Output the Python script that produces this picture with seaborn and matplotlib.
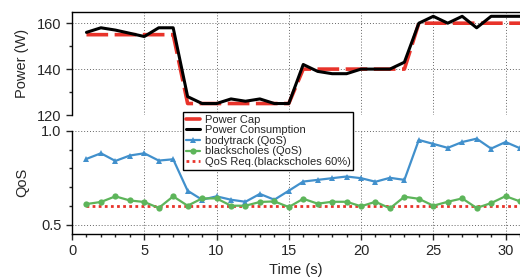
import numpy as np
import pandas as pd
import seaborn as sns
import matplotlib
matplotlib.use("Agg")
from matplotlib import pyplot as plt
from matplotlib.ticker import MultipleLocator

# time steps (s)
time_s = list(range(1, 32))

# power panel (W)
power_cap = [155] * 7 + [125] * 8 + [140] * 8 + [160] * 8
power_consumption = [156, 158, 157, 155.6, 154.2, 158, 158, 128, 125, 125,
                     127, 126, 127, 125, 125, 142, 139, 138, 138, 140,
                     140, 140, 143, 160, 163, 160, 163, 158, 163, 163, 163]

# QoS panel
bodytrack_qos = [0.851, 0.881, 0.840, 0.869, 0.881, 0.842, 0.849, 0.681, 0.633, 0.651,
                 0.633, 0.622, 0.664, 0.633, 0.681, 0.730, 0.739, 0.748, 0.757, 0.748,
                 0.729, 0.750, 0.739, 0.952, 0.931, 0.910, 0.941, 0.959, 0.906, 0.941, 0.908]
blackscholes_qos = [0.610, 0.621, 0.651, 0.629, 0.621, 0.589, 0.651, 0.601, 0.640, 0.640,
                    0.601, 0.601, 0.621, 0.624, 0.594, 0.638, 0.612, 0.622, 0.622, 0.598,
                    0.622, 0.587, 0.649, 0.638, 0.601, 0.622, 0.640, 0.589, 0.615, 0.652, 0.624]
qos_req = [0.6] * 31

df = pd.DataFrame({
    "t": time_s,
    "cap": power_cap,
    "cons": power_consumption,
    "body": bodytrack_qos,
    "black": blackscholes_qos,
    "req": qos_req,
})

sns.set_style("ticks")
plt.rcParams['font.family'] = ['Liberation Sans', 'DejaVu Sans']
plt.rcParams['font.size'] = 10.5

fig = plt.figure(figsize=(5.2, 2.79), dpi=100)
ax1 = fig.add_axes([0.1385, 0.5878, 0.8615, 0.3702])
ax2 = fig.add_axes([0.1385, 0.1613, 0.8615, 0.3692])

red = "#e8332a"
blue = "#4190cc"
green = "#5db55a"

sns.lineplot(data=df, x="t", y="cap", ax=ax1, color=red, lw=2.6,
             label="Power Cap", zorder=3).lines[-1].set_dashes([6, 1.8])
sns.lineplot(data=df, x="t", y="cons", ax=ax1, color="black", lw=2.2,
             label="Power Consumption", zorder=4)

sns.lineplot(data=df, x="t", y="body", ax=ax2, color=blue, lw=1.6, marker="^",
             markersize=5, markeredgewidth=0, label="bodytrack (QoS)", zorder=3)
sns.lineplot(data=df, x="t", y="black", ax=ax2, color=green, lw=1.6, marker="o",
             markersize=4.5, markeredgewidth=0, label="blackscholes (QoS)", zorder=3)
sns.lineplot(data=df, x="t", y="req", ax=ax2, color=red, lw=2, ls=(0, (1, 1.2)),
             label="QoS Req.(blackscholes 60%)", zorder=2)

for ax in (ax1, ax2):
    ax.set_xlim(0, 31)
    ax.grid(True, which="major", ls=(0, (1, 2)), color="#666666", lw=0.7)
    ax.tick_params(which="major", direction="out", length=4, width=1, labelsize=10.5)
    ax.tick_params(which="minor", direction="out", length=2.5, width=1)
    for s in ax.spines.values():
        s.set_linewidth(1)
        s.set_color("black")

ax1.set_ylim(120, 165)
ax1.set_yticks([120, 140, 160])
ax1.yaxis.set_minor_locator(MultipleLocator(10))
ax1.xaxis.set_major_locator(MultipleLocator(5))
ax1.tick_params(axis="x", which="both", bottom=False, labelbottom=False)
ax1.spines["bottom"].set_visible(False)
ax1.spines["right"].set_visible(False)
ax1.set_xlabel("")
ax1.set_ylabel("Power (W)")

ax2.set_ylim(0.45, 1.0)
ax2.set_yticks([0.5, 1.0])
ax2.yaxis.set_minor_locator(MultipleLocator(0.1))
ax2.xaxis.set_major_locator(MultipleLocator(5))
ax2.xaxis.set_minor_locator(MultipleLocator(1))
ax2.spines["top"].set_visible(False)
ax2.spines["right"].set_visible(False)
ax2.set_xlabel("Time (s)", labelpad=3)
ax2.set_ylabel("QoS")
ax1.yaxis.set_label_coords(-0.095, 0.5)
ax2.yaxis.set_label_coords(-0.095, 0.5)

h1, l1 = ax1.get_legend_handles_labels()
h2, l2 = ax2.get_legend_handles_labels()
ax1.get_legend().remove()
ax2.get_legend().remove()
leg = fig.legend(h1 + h2, l1 + l2, loc="upper left", bbox_to_anchor=(183 / 520, 1 - 112 / 279),
                 fontsize=8, frameon=True, fancybox=False, edgecolor="black",
                 handlelength=1.3, handletextpad=0.4, labelspacing=0.05,
                 borderpad=0.25, borderaxespad=0)
leg.get_frame().set_linewidth(1)
leg.get_frame().set_alpha(1)
leg.legend_handles[0].set_dashes([])

fig.savefig("out.png", dpi=100)
